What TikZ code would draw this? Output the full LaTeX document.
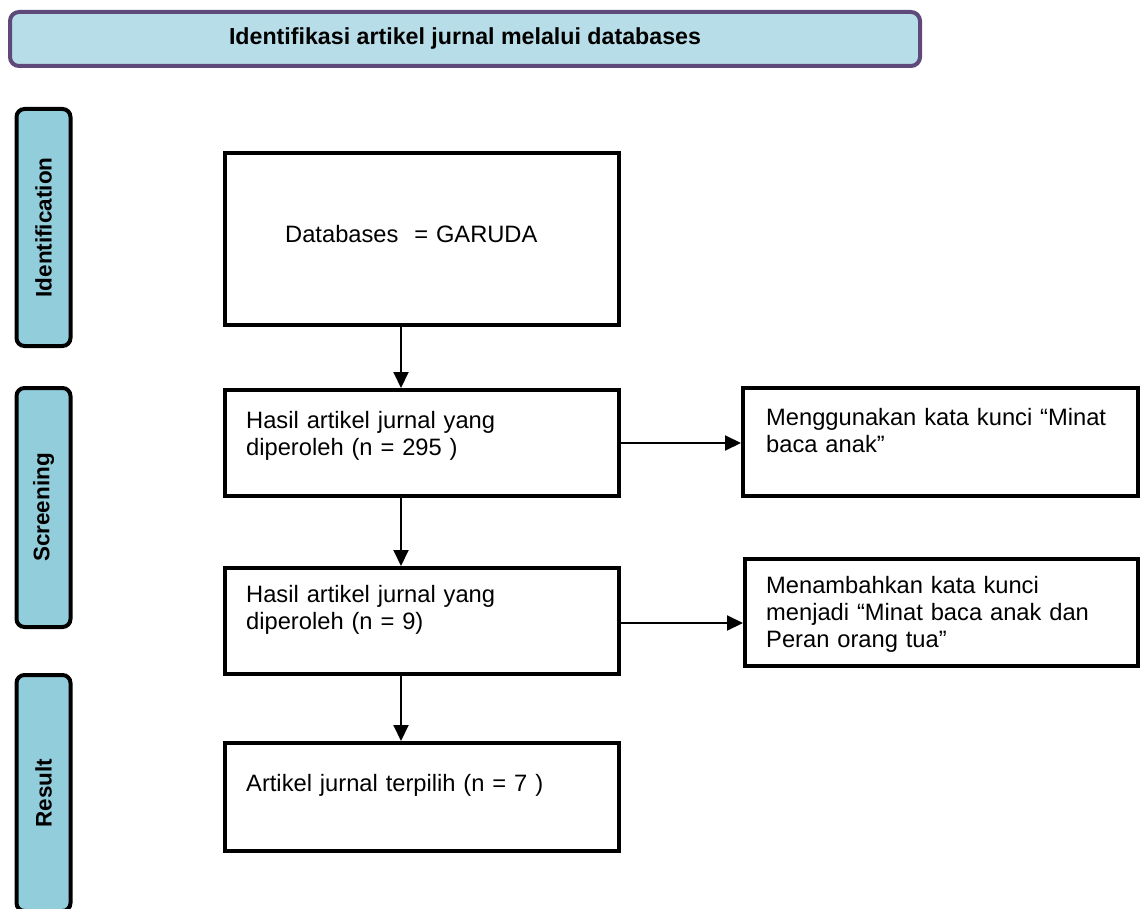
\documentclass[tikz,border=0pt]{standalone}
\usepackage{fontspec}
\setmainfont{Liberation Sans}
\usetikzlibrary{arrows.meta,positioning}
\definecolor{bannerblue}{HTML}{B7DDE8}
\definecolor{bannerpurple}{HTML}{5F497A}
\definecolor{tabblue}{HTML}{92CDDC}
\tikzset{
  stagebox/.style={draw, line width=4pt, inner sep=0pt, minimum width=394pt},
  tabbox/.style={draw, fill=tabblue, line width=4pt, rounded corners=8pt, rotate=90,
    minimum height=54pt, inner sep=0pt, font=\bfseries\fontsize{22.5}{27}\selectfont},
  boxtext/.style={inner sep=0pt, anchor=base west, align=left, text width=370pt,
    font=\fontsize{23.7}{27}\selectfont},
  flow/.style={line width=2pt, -{Triangle[length=16pt,width=15pt]}},
}

\begin{document}
\begin{tikzpicture}[x=1pt,y=-1pt]
\useasboundingbox (0,0) rectangle (1147,909);
% Banner
\node[draw=bannerpurple, fill=bannerblue, line width=4pt, rounded corners=9pt,
  minimum width=910pt, minimum height=54pt, inner sep=0pt,
  font=\bfseries\fontsize{23.2}{27}\selectfont] (banner) at (465,39)
  {Identifikasi artikel jurnal melalui databases};
% Stage tabs
\node[tabbox, minimum width=237pt] (tabid) at (43.5,227.5) {Identification};
\node[tabbox, minimum width=239pt] (tabscr) at (43.5,507.5) {Screening};
\node[tabbox, minimum width=236pt] (tabres) at (43.5,793) {Result};
% Main column
\node[stagebox, minimum height=172pt] (db) at (422,239) {};
\node[stagebox, minimum height=106pt] (hasil1) at (422,443) {};
\node[stagebox, minimum height=106pt] (hasil2) at (422,621) {};
\node[stagebox, minimum height=108pt] (pilih) at (422,797) {};
% Keyword boxes
\node[stagebox, minimum width=395pt, minimum height=108pt] (kunci1) at (940.5,442) {};
\node[stagebox, minimum width=393pt, minimum height=107pt] (kunci2) at (941.5,612.5) {};
% Texts
\node[boxtext] (dbtext) at (285,242) {Databases\ \ = GARUDA};
\node[boxtext] (hasil1text) at (246,428) {Hasil artikel jurnal yang\\diperoleh (n = 295 )};
\node[boxtext] (hasil2text) at (246,602) {Hasil artikel jurnal yang\\diperoleh (n = 9)};
\node[boxtext] (pilihtext) at (246,791) {Artikel jurnal terpilih (n = 7 )};
\node[boxtext] (kunci1text) at (766,425) {Menggunakan kata kunci “Minat\\baca anak”};
\node[boxtext] (kunci2text) at (766,593) {Menambahkan kata kunci\\menjadi “Minat baca anak dan\\Peran orang tua”};
% Arrows
\coordinate (spine) at (401,0);
\draw[flow] (db.south -| spine) -- (hasil1.north -| spine);
\draw[flow] (hasil1.south -| spine) -- (hasil2.north -| spine);
\draw[flow] (hasil2.south -| spine) -- (pilih.north -| spine);
\draw[flow] (hasil1.east) -- (hasil1.east -| kunci1.west);
\draw[flow] ([yshift=-2pt]hasil2.east) -- ([yshift=-2pt]hasil2.east -| kunci2.west);
\end{tikzpicture}
\end{document}
